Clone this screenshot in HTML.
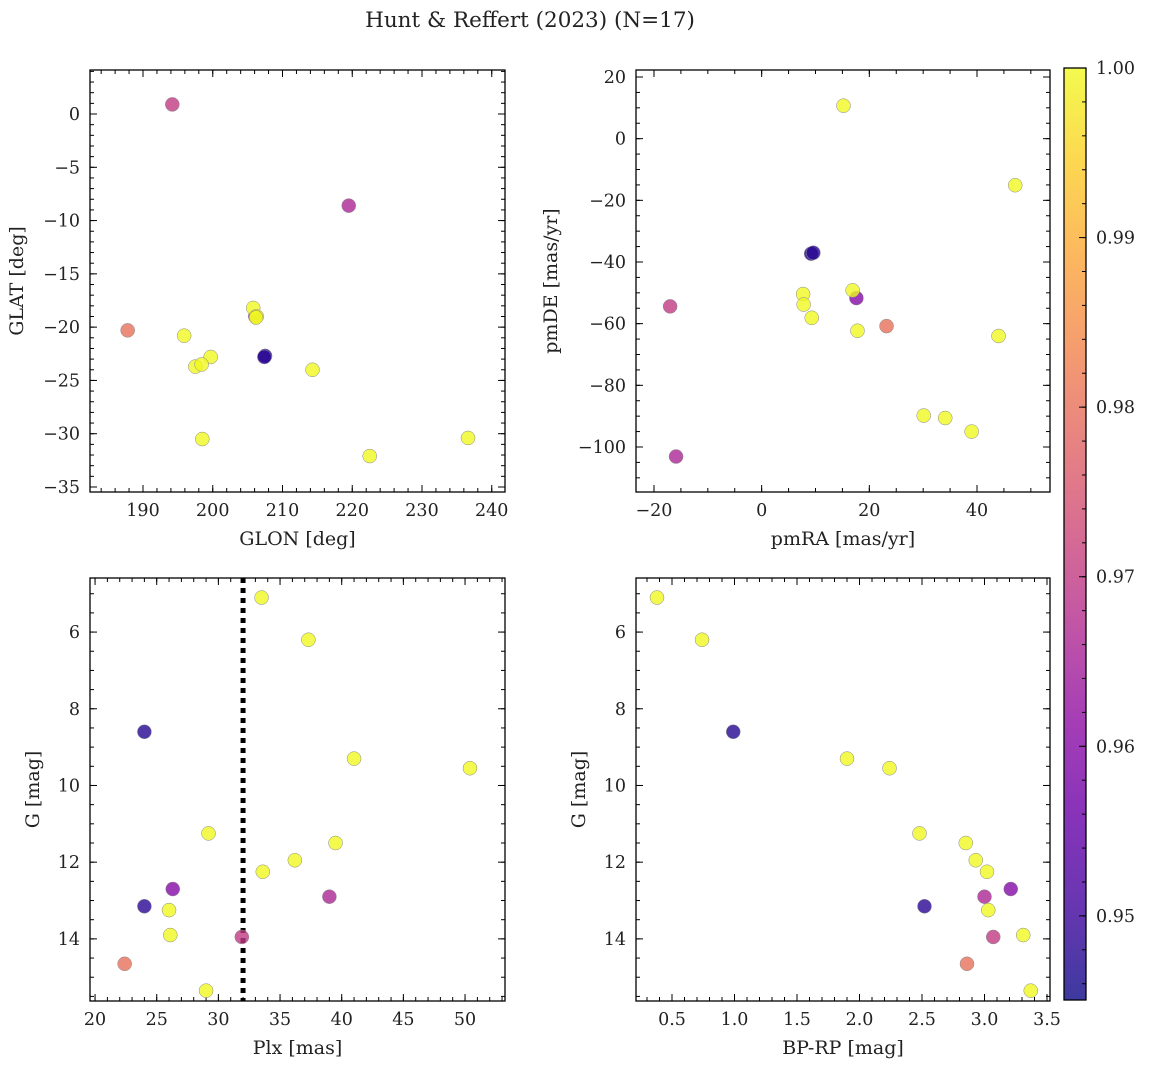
<!DOCTYPE html>
<html><head><meta charset="utf-8"><style>
body{margin:0;background:#fff}
svg text{font-family:"DejaVu Serif","Liberation Serif",serif;fill:#222}
</style></head><body>
<svg id="fig" width="1149" height="1068" xmlns="http://www.w3.org/2000/svg">
<text x="530" y="27" text-anchor="middle" font-size="21.5">Hunt &amp; Reffert (2023) (N=17)</text>
</svg>
<script>
// Star data
const glon = [206.1,194.2,219.5,187.8,205.8,206.3,206.2,195.9,199.7,197.5,198.4,207.5,207.4,214.3,198.5,222.5,236.6];
const glat = [-19.0,0.9,-8.6,-20.3,-18.2,-19.0,-19.1,-20.8,-22.8,-23.7,-23.5,-22.7,-22.8,-24.0,-30.5,-32.1,-30.4];
const pmra = [17.6,-17.0,-15.9,23.2,7.7,16.9,7.8,9.3,17.8,44.0,30.1,9.2,9.6,47.1,15.2,34.1,39.0];
const pmde = [-51.7,-54.4,-103.1,-60.8,-50.4,-49.2,-53.8,-58.1,-62.3,-64.0,-89.8,-37.3,-37.0,-15.1,10.7,-90.6,-95.0];
const plx  = [26.3,31.9,39.0,22.4,33.5,37.3,41.0,50.4,29.2,39.5,36.2,24.0,24.0,33.6,26.0,26.1,29.0];
const gmag = [12.7,13.95,12.9,14.65,5.1,6.2,9.3,9.55,11.25,11.5,11.95,8.6,13.15,12.25,13.25,13.9,15.35];
const bprp = [3.21,3.07,3.0,2.86,0.38,0.74,1.9,2.24,2.48,2.85,2.93,0.99,2.52,3.02,3.03,3.31,3.37];
const prob = [0.960,0.970,0.966,0.980,1,1,1,1,1,1,1,0.9475,0.948,1,1,1,1];
const cbTicks = [0.95,0.96,0.97,0.98,0.99,1.00];

const svg = document.getElementById('fig');
const NS = 'http://www.w3.org/2000/svg';
function el(tag, attrs, parent){const e=document.createElementNS(NS,tag);for(const k in attrs)e.setAttribute(k,attrs[k]);(parent||svg).appendChild(e);return e;}

const stops=['#0d0887','#41049d','#6a00a8','#8f0da4','#b12a90','#cc4778','#e16462','#f2844b','#fca636','#fcce25','#f0f921'];
function hex(h){return [1,3,5].map(i=>parseInt(h.substr(i,2),16));}
function plasma(t){t=Math.max(0,Math.min(1,t));const f=t*10,i=Math.min(9,Math.floor(f)),u=f-i;const a=hex(stops[i]),b=hex(stops[i+1]);return 'rgb('+a.map((v,j)=>Math.round(v+(b[j]-v)*u)).join(',')+')';}
const vmin=0.94504,vmax=1.0;
function fmt(v,d){return v.toFixed(d).replace('-','\u2212');}

function panel(o){
  const g=el('g',{});
  
  
  const X=v=>o.x0+(v-o.xmin)/(o.xmax-o.xmin)*(o.x1-o.x0);
  const Y=o.inv? v=>o.y0+(v-o.ymin)/(o.ymax-o.ymin)*(o.y1-o.y0) : v=>o.y1-(v-o.ymin)/(o.ymax-o.ymin)*(o.y1-o.y0);
  function ticks(axis,step,len,labels,dec){
    const lo=axis==='x'?o.xmin:o.ymin,hi=axis==='x'?o.xmax:o.ymax;
    for(let v=Math.ceil(lo/step-1e-9)*step;v<=hi+1e-9;v+=step){
      if(axis==='x'){const p=X(v);
        el('line',{x1:p,x2:p,y1:o.y1,y2:o.y1-len,stroke:'#000','stroke-width':1},g);
        el('line',{x1:p,x2:p,y1:o.y0,y2:o.y0+len,stroke:'#000','stroke-width':1},g);
        if(labels){const t=el('text',{x:p,y:o.y1+24,'text-anchor':'middle','font-size':17.5},g);t.textContent=fmt(v,dec);
          }
      } else {const p=Y(v);
        el('line',{x1:o.x0,x2:o.x0+len,y1:p,y2:p,stroke:'#000','stroke-width':1},g);
        el('line',{x1:o.x1,x2:o.x1-len,y1:p,y2:p,stroke:'#000','stroke-width':1},g);
        if(labels){const t=el('text',{x:o.x0-10,y:p+6,'text-anchor':'end','font-size':17.5},g);t.textContent=fmt(v,dec);
          }
      }
    }
  }
  ticks('x',o.xmaj,7,true,o.xdec);ticks('x',o.xmin_s,4,false);
  ticks('y',o.ymaj,7,true,o.ydec);ticks('y',o.ymin_s,4,false);
  if(o.vline!==undefined){const l=el('line',{x1:X(o.vline),x2:X(o.vline),y1:o.y0,y2:o.y1,stroke:'#000','stroke-width':5,'stroke-dasharray':'5,5'},g);
    }
  for(let i=0;i<o.xs.length;i++){
    const c=el('circle',{cx:X(o.xs[i]),cy:Y(o.ys[i]),r:7,fill:plasma((prob[i]-vmin)/(vmax-vmin)),'fill-opacity':0.8,stroke:'#888','stroke-width':0.5},g);
    
    
  }
  const fr=el('rect',{x:o.x0,y:o.y0,width:o.x1-o.x0,height:o.y1-o.y0,fill:'none',stroke:'#000','stroke-width':1.3},g);
  
  const xl=el('text',{x:(o.x0+o.x1)/2,y:o.y1+53,'text-anchor':'middle','font-size':19},g);xl.textContent=o.xlab;
  
  const yc=(o.y0+o.y1)/2;
  const yl=el('text',{x:o.ylx,y:yc,'text-anchor':'middle','font-size':19,transform:`rotate(-90 ${o.ylx} ${yc})`},g);yl.textContent=o.ylab;
  
}

panel({name:'glon-glat-panel',x0:90,x1:505,y0:70,y1:492,xmin:182.4,xmax:241.9,ymin:-35.47,ymax:4.13,xmaj:10,xmin_s:2,ymaj:5,ymin_s:1,xdec:0,ydec:0,xs:glon,ys:glat,xlab:'GLON [deg]',ylab:'GLAT [deg]',ylx:23});
panel({name:'proper-motion-panel',x0:636,x1:1050,y0:70,y1:492,xmin:-23.34,xmax:53.56,ymin:-114.6,ymax:22.27,xmaj:20,xmin_s:5,ymaj:20,ymin_s:5,xdec:0,ydec:0,xs:pmra,ys:pmde,xlab:'pmRA [mas/yr]',ylab:'pmDE [mas/yr]',ylx:557});
panel({name:'plx-g-panel',x0:90,x1:505,y0:578,y1:1001,xmin:19.59,xmax:53.24,ymin:4.59,ymax:15.62,inv:true,xmaj:5,xmin_s:1,ymaj:2,ymin_s:0.5,xdec:0,ydec:0,xs:plx,ys:gmag,xlab:'Plx [mas]',ylab:'G [mag]',ylx:39,vline:32});
panel({name:'color-magnitude-panel',x0:636,x1:1050,y0:578,y1:1001,xmin:0.212,xmax:3.524,ymin:4.59,ymax:15.62,inv:true,xmaj:0.5,xmin_s:0.1,ymaj:2,ymin_s:0.5,xdec:1,ydec:0,xs:bprp,ys:gmag,xlab:'BP-RP [mag]',ylab:'G [mag]',ylx:585});

const cb=el('g',{});


const defs=el('defs',{},cb);
const lg=el('linearGradient',{id:'pl',x1:0,y1:1,x2:0,y2:0},defs);
for(let i=0;i<=20;i++){el('stop',{offset:i/20,'stop-color':plasma(i/20),'stop-opacity':0.8},lg);}
const cx0=1064,cx1=1086,cy0=68,cy1=1000;
el('rect',{x:cx0,y:cy0,width:cx1-cx0,height:cy1-cy0,fill:'url(#pl)',stroke:'#000','stroke-width':1.3},cb);
const CY=v=>cy1-(v-vmin)/(vmax-vmin)*(cy1-cy0);
for(let v=0.946;v<=1.0001;v+=0.002){el('line',{x1:cx1,x2:cx1-4,y1:CY(v),y2:CY(v),stroke:'#000'},cb);}
cbTicks.forEach(v=>{el('line',{x1:cx1,x2:cx1-7,y1:CY(v),y2:CY(v),stroke:'#000'},cb);
  const t=el('text',{x:cx1+10,y:CY(v)+6,'font-size':17.5},cb);t.textContent=v.toFixed(2);
  });
</script>
</body></html>
